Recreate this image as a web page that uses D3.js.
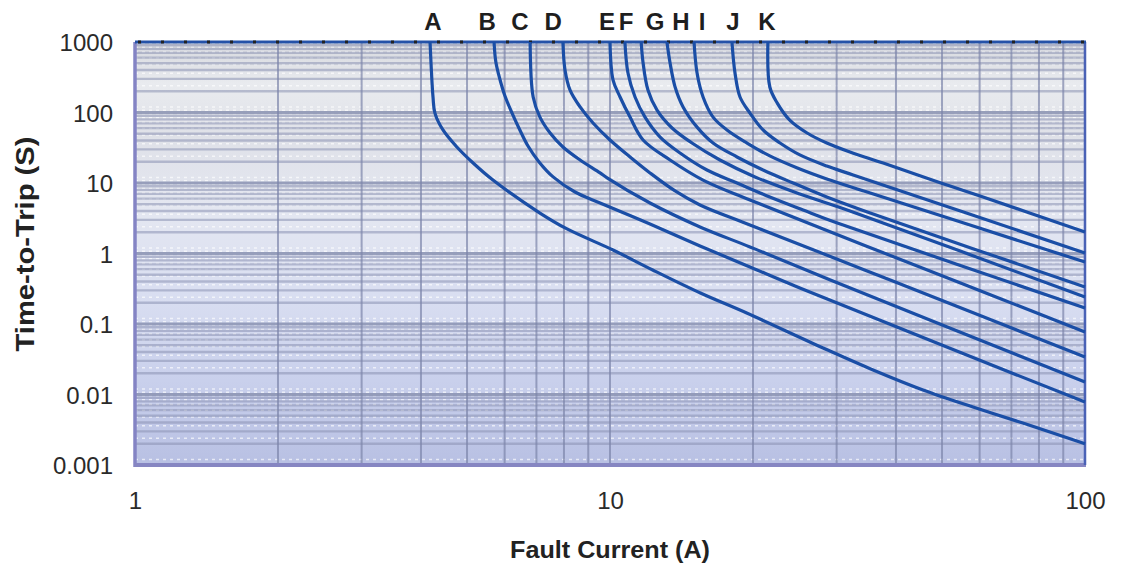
<!DOCTYPE html>
<html><head><meta charset="utf-8">
<script src="https://cdn.jsdelivr.net/npm/d3@7"></script>
<style>body{margin:0;background:#fff;} svg{display:block;}</style>
</head><body><svg id="c" width="1123" height="566"></svg>
<script>
// ---- data ----
const curveNames = ["A","B","C","D","E","F","G","H","I","J","K"];
const labelCurrent = [4.24, 5.51, 6.46, 7.59, 9.86, 10.81, 12.44, 14.11, 15.62, 18.15, 21.4];
const curveA = [[4.18,1000],[4.24,166],[4.28,98],[4.45,56.5],[4.76,32.4],[5.15,19.2],[5.67,11.0],[7.12,3.75],[8.12,2.23],[10.15,1.12],[12.3,0.583],[15.5,0.275],[19.4,0.143],[28.1,0.0457],[35.8,0.0223],[45.6,0.0116],[58.1,0.00665],[74,0.00394],[100,0.0020]];
const curveB = [[5.70,1000],[5.75,520],[5.87,289],[6.01,171],[6.22,98],[6.46,56.5],[6.72,33.5],[7.09,19.9],[7.59,12.2],[8.44,7.45],[9.53,5.2],[12.14,2.62],[15.47,1.28],[19.71,0.644],[25.1,0.324],[100,0.0078]];
const curveC = [[6.79,1000],[6.89,166],[7.12,86],[7.48,51.2],[7.96,32.4],[8.65,21.2],[9.53,13.9],[9.86,11.8],[12.14,5.20],[15.47,2.38],[19.71,1.24],[29.1,0.421],[100,0.0150]];
const curveD = [[7.96,1000],[8.04,401],[8.24,208],[8.65,120],[9.21,71],[10.0,40.7],[11.02,23.4],[12.14,13.9],[13.71,7.71],[15.47,4.88],[19.71,2.54],[38.9,0.421],[100,0.0340]];
const curveE = [[10.0,1000],[10.15,289],[10.5,166],[11.02,86],[11.74,40.7],[13.38,21.2],[15.70,11.0],[19.71,5.74],[52.7,0.421],[100,0.0771]];
const curveF = [[10.75,1000],[10.91,363],[11.29,166],[11.85,86],[12.75,44.9],[14.04,26.7],[16.0,15.3],[18.51,10.0],[21.7,6.33],[25.5,4.14],[30.1,2.71],[100,0.169]];
const curveG = [[11.63,1000],[11.74,504],[12.02,208],[12.56,108],[13.51,60.3],[14.88,36.9],[17.04,21.2],[20.2,12.2],[25.1,6.98],[32.0,4.01],[100,0.241]];
const curveH = [[13.18,1000],[13.38,504],[13.71,230],[14.25,120],[15.25,62],[16.48,36.9],[18.51,23.4],[21.0,15.3],[24.3,10.0],[28.6,6.33],[35.3,3.75],[100,0.335]];
const curveI = [[15.03,1000],[15.25,363],[15.70,166],[16.48,86],[17.63,56.5],[19.43,36.9],[21.7,24.2],[24.8,16.3],[28.6,11.4],[35.3,7.21],[100,0.757]];
const curveJ = [[18.06,1000],[18.33,363],[18.78,166],[19.71,98],[21.0,56.5],[22.8,36.9],[25.1,25.0],[28.6,17.4],[32.5,13.0],[100,1.02]];
const curveK = [[21.5,1000],[21.7,230],[22.5,136],[23.9,78],[26.0,51.2],[28.6,36.9],[32.0,27.5],[37.6,19.2],[44.3,13.1],[52.0,9.06],[61.0,6.33],[100,2.02]];
const curves = [curveA,curveB,curveC,curveD,curveE,curveF,curveG,curveH,curveI,curveJ,curveK];
const xTickValues = [1, 10, 100];
const xTickLabels = ["1", "10", "100"];
const yTickValues = [1000, 100, 10, 1, 0.1, 0.01, 0.001];
const yTickLabels = ["1000", "100", "10", "1", "0.1", "0.01", "0.001"];
const xTitle = "Fault Current (A)";
const yTitle = "Time-to-Trip (S)";

// ---- layout ----
const svg = d3.select("#c");
const L = 135, R = 1085, T = 42, B = 465;
const FONT = "Liberation Sans, Arial, sans-serif";
const x = d3.scaleLog().domain([1, 100]).range([L, R]);
const y = d3.scaleLog().domain([0.001, 1000]).range([B, T]);

const defs = svg.append("defs");
const grad = defs.append("linearGradient").attr("id","bg").attr("x1",0).attr("y1",0).attr("x2",0).attr("y2",1);
[[0,"#d6d8de"],[0.1,"#e9ebef"],[0.22,"#dfe1e8"],[0.4,"#e4e7f1"],[0.6,"#d9def1"],[0.8,"#c9d0ec"],[1,"#b8c0e3"]]
  .forEach(([o,c]) => grad.append("stop").attr("offset",o).attr("stop-color",c));

svg.append("rect").attr("x",L).attr("y",T).attr("width",R-L).attr("height",B-T).attr("fill","url(#bg)");

const yMinor = [];
for (let e = -3; e < 3; e++) for (let k = 1; k <= 9; k++) yMinor.push(k * Math.pow(10, e));
const xMinor = [];
for (let e = 0; e < 2; e++) for (let k = 2; k <= 9; k++) xMinor.push(k * Math.pow(10, e));
xMinor.push(10);
const mant = d => Math.round(d / Math.pow(10, Math.floor(Math.log10(d) + 1e-9)));

const grid = svg.append("g");
grid.selectAll("line.hd").data(yMinor.map(v => v * 1.2)).enter().append("line")
  .attr("x1",L).attr("x2",R).attr("y1",d=>y(d)).attr("y2",d=>y(d))
  .attr("stroke","#ffffff").attr("stroke-opacity",0.65).attr("stroke-width",1.5).attr("stroke-dasharray","3,4");
grid.selectAll("line.h").data(yMinor).enter().append("line")
  .attr("x1",L).attr("x2",R).attr("y1",d=>y(d)).attr("y2",d=>y(d))
  .attr("stroke","#8a92b2").attr("stroke-opacity",d=>mant(d)===1?0.85:0.55)
  .attr("stroke-width",d=>mant(d)===1?3:2.4);
grid.selectAll("line.v").data(xMinor).enter().append("line")
  .attr("x1",d=>x(d)).attr("x2",d=>x(d)).attr("y1",T).attr("y2",B)
  .attr("stroke","#7c85aa").attr("stroke-opacity",0.7).attr("stroke-width",2);

// frame
svg.append("line").attr("x1",L).attr("x2",L).attr("y1",T).attr("y2",B+2).attr("stroke","#8484c4").attr("stroke-width",3.5);
svg.append("line").attr("x1",L-1).attr("x2",R+1).attr("y1",B).attr("y2",B).attr("stroke","#8686c2").attr("stroke-width",4);
svg.append("line").attr("x1",R).attr("x2",R).attr("y1",T).attr("y2",B).attr("stroke","#4a62b6").attr("stroke-width",2.5);
svg.append("line").attr("x1",L).attr("x2",R+1).attr("y1",T).attr("y2",T).attr("stroke","#2552a8").attr("stroke-width",3);
svg.append("line").attr("x1",L+3).attr("x2",R).attr("y1",T).attr("y2",T).attr("stroke","#222").attr("stroke-width",3).attr("stroke-dasharray","3,20");

// curves
const line = d3.line().x(d=>x(d[0])).y(d=>y(d[1])).curve(d3.curveCatmullRom.alpha(0.5));
svg.append("g").selectAll("path").data(curves).enter().append("path")
  .attr("d", line).attr("fill","none").attr("stroke","#1a4ea6").attr("stroke-width",3.2)
  .attr("stroke-linejoin","round").attr("stroke-linecap","butt");

// curve letters
svg.append("g").selectAll("text").data(curveNames).enter().append("text")
  .attr("x",(d,i)=>x(labelCurrent[i])).attr("y",30).attr("text-anchor","middle")
  .attr("font-family",FONT).attr("font-weight","bold").attr("font-size",24)
  .attr("fill","#1e1e1e").text(d=>d);

// axes
const yAxis = d3.axisLeft(y).tickValues(yTickValues).tickFormat((d,i)=>yTickLabels[i]).tickSize(0).tickPadding(22);
const ya = svg.append("g").attr("transform",`translate(${L},0)`).call(yAxis);
ya.select(".domain").remove();
ya.selectAll("text").attr("font-family",FONT).attr("font-size",24).attr("fill","#2a2a2a").attr("dy","0.36em");

const xAxis = d3.axisBottom(x).tickValues(xTickValues).tickFormat((d,i)=>xTickLabels[i]).tickSize(0).tickPadding(27);
const xa = svg.append("g").attr("transform",`translate(0,${B})`).call(xAxis);
xa.select(".domain").remove();
xa.selectAll("text").attr("font-family",FONT).attr("font-size",24).attr("fill","#2a2a2a");

svg.append("text").attr("x",610).attr("y",558).attr("text-anchor","middle")
  .attr("font-family",FONT).attr("font-weight","bold").attr("font-size",24)
  .attr("textLength",200).attr("lengthAdjust","spacingAndGlyphs")
  .attr("fill","#222").text(xTitle);
svg.append("text").attr("transform",`translate(34,244) rotate(-90)`).attr("text-anchor","middle")
  .attr("font-family",FONT).attr("font-weight","bold").attr("font-size",25)
  .attr("textLength",215).attr("lengthAdjust","spacingAndGlyphs")
  .attr("fill","#222").text(yTitle);
</script></body></html>
